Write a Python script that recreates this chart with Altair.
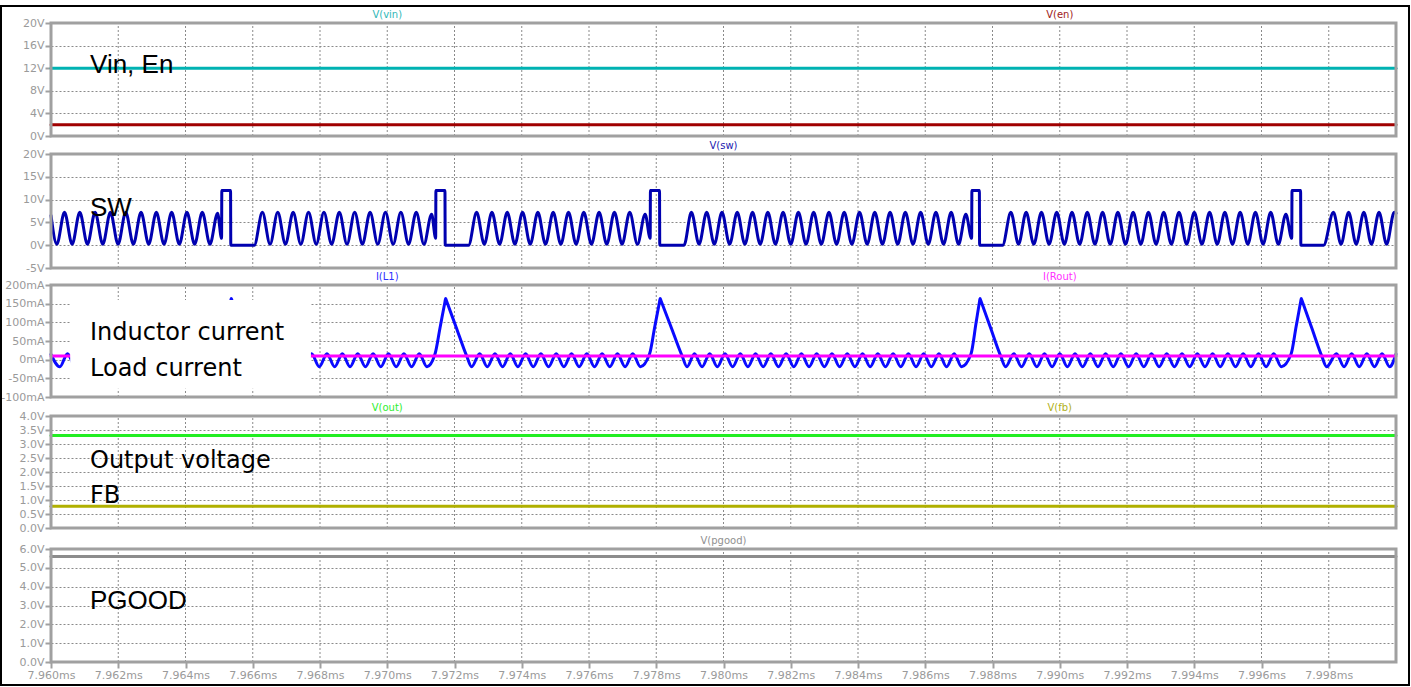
import altair as alt
import pandas as pd

# ---------------------------------------------------------------------------
# Time window (ms) and time-axis ticks
# ---------------------------------------------------------------------------
T0 = 7.960
T1 = 8.000
time_ticks = [7.960, 7.962, 7.964, 7.966, 7.968, 7.970, 7.972, 7.974, 7.976, 7.978,
              7.980, 7.982, 7.984, 7.986, 7.988, 7.990, 7.992, 7.994, 7.996, 7.998]

# ---------------------------------------------------------------------------
# Waveforms: (time in us after 7.960 ms, value)
# ---------------------------------------------------------------------------
# Switch node voltage V(sw) in volts
sw_wave = [
    (0.000, 6.5), (0.173, 0.2), (0.401, 7.2), (0.629, 0.2), (0.856, 7.2), (1.084, 0.2),
    (1.312, 7.2), (1.540, 0.2), (1.767, 7.2), (1.995, 0.2), (2.222, 7.2), (2.450, 0.2),
    (2.678, 7.2), (2.906, 0.2), (3.133, 7.2), (3.361, 0.2), (3.588, 7.2), (3.816, 0.2),
    (4.043, 7.2), (4.271, 0.2), (4.499, 7.2), (4.727, 0.2), (4.954, 7.0),
    (5.073, 1.5), (5.080, 12.0), (5.340, 12.0), (5.347, 0.0), (6.045, 0.0),
    (6.286, 7.2), (6.515, 0.2), (6.744, 7.2), (6.973, 0.2), (7.201, 7.2), (7.430, 0.2),
    (7.659, 7.2), (7.888, 0.2), (8.117, 7.2), (8.346, 0.2), (8.574, 7.2), (8.803, 0.2),
    (9.032, 7.2), (9.261, 0.2), (9.489, 7.2), (9.718, 0.2), (9.947, 7.2), (10.176, 0.2),
    (10.405, 7.2), (10.634, 0.2), (10.862, 7.2), (11.091, 0.2), (11.320, 6.8),
    (11.440, 1.5), (11.447, 12.0), (11.716, 12.0), (11.723, 0.0), (12.418, 0.0),
    (12.658, 7.2), (12.886, 0.2), (13.113, 7.2), (13.341, 0.2), (13.569, 7.2), (13.796, 0.2),
    (14.024, 7.2), (14.252, 0.2), (14.479, 7.2), (14.707, 0.2), (14.935, 7.2), (15.162, 0.2),
    (15.390, 7.2), (15.617, 0.2), (15.845, 7.2), (16.073, 0.2), (16.300, 7.2), (16.528, 0.2),
    (16.756, 7.2), (16.983, 0.2), (17.211, 7.2), (17.440, 0.2), (17.670, 6.8),
    (17.820, 1.5), (17.827, 12.0), (18.097, 12.0), (18.104, 0.0), (18.826, 0.0),
    (19.045, 7.2), (19.273, 0.2), (19.500, 7.2), (19.727, 0.2), (19.954, 7.2), (20.182, 0.2),
    (20.409, 7.2), (20.636, 0.2), (20.863, 7.2), (21.091, 0.2), (21.318, 7.2), (21.545, 0.2),
    (21.772, 7.2), (22.000, 0.2), (22.227, 7.2), (22.454, 0.2), (22.681, 7.2), (22.909, 0.2),
    (23.136, 7.2), (23.363, 0.2), (23.590, 7.2), (23.818, 0.2), (24.045, 7.2), (24.272, 0.2),
    (24.499, 7.2), (24.727, 0.2), (24.954, 7.2), (25.181, 0.2), (25.408, 7.2), (25.636, 0.2),
    (25.863, 7.2), (26.090, 0.2), (26.317, 7.2), (26.544, 0.2), (26.771, 7.2), (26.990, 0.2),
    (27.208, 6.8),
    (27.380, 1.5), (27.387, 12.0), (27.609, 12.0), (27.616, 0.0), (28.299, 0.0),
    (28.546, 7.2), (28.774, 0.2), (29.001, 7.2), (29.228, 0.2), (29.455, 7.2), (29.683, 0.2),
    (29.910, 7.2), (30.137, 0.2), (30.364, 7.2), (30.592, 0.2), (30.819, 7.2), (31.046, 0.2),
    (31.274, 7.2), (31.501, 0.2), (31.728, 7.2), (31.956, 0.2), (32.183, 7.2), (32.410, 0.2),
    (32.637, 7.2), (32.865, 0.2), (33.092, 7.2), (33.319, 0.2), (33.546, 7.2), (33.774, 0.2),
    (34.001, 7.2), (34.228, 0.2), (34.456, 7.2), (34.683, 0.2), (34.910, 7.2), (35.137, 0.2),
    (35.365, 7.2), (35.592, 0.2), (35.819, 7.2), (36.047, 0.2), (36.274, 7.2), (36.500, 0.2),
    (36.726, 6.8),
    (36.900, 1.5), (36.907, 12.0), (37.163, 12.0), (37.170, 0.0), (37.847, 0.0),
    (38.139, 7.2), (38.365, 0.2), (38.591, 7.2), (38.817, 0.2), (39.043, 7.2), (39.269, 0.2),
    (39.495, 7.2), (39.721, 0.2), (39.947, 7.2), (40.000, 7.0),
]

# Inductor current I(L1) in mA (triangular pulses are listed with points along
# their straight flanks so the curve stays straight there)
il_wave = [
    (0.000, 14), (0.263, -19), (0.491, 16), (0.719, -19), (0.946, 16), (1.174, -19),
    (1.402, 16), (1.630, -19), (1.857, 16), (2.085, -19), (2.312, 16), (2.540, -19),
    (2.768, 16), (2.996, -19), (3.223, 16), (3.451, -19), (3.678, 16), (3.906, -19),
    (4.133, 16), (4.361, -19), (4.589, 16), (4.817, -19),
    (5.050, 15), (5.200, 87.1), (5.340, 154.4), (5.360, 164), (5.380, 159.1),
    (5.670, 88.0), (5.988, 10), (6.135, -19),
    (6.376, 16), (6.605, -19), (6.834, 16), (7.063, -19), (7.291, 16), (7.520, -19),
    (7.749, 16), (7.978, -19), (8.207, 16), (8.436, -19), (8.664, 16), (8.893, -19),
    (9.122, 16), (9.351, -19), (9.579, 16), (9.808, -19), (10.037, 16), (10.266, -19),
    (10.495, 16), (10.724, -19), (10.952, 16), (11.181, -19),
    (11.420, 15), (11.570, 85.7), (11.716, 154.6), (11.736, 164), (11.756, 159.1),
    (12.046, 87.6), (12.361, 10), (12.508, -19),
    (12.748, 16), (12.976, -19), (13.203, 16), (13.431, -19), (13.659, 16), (13.886, -19),
    (14.114, 16), (14.342, -19), (14.569, 16), (14.797, -19), (15.025, 16), (15.252, -19),
    (15.480, 16), (15.707, -19), (15.935, 16), (16.163, -19), (16.390, 16), (16.618, -19),
    (16.846, 16), (17.073, -19), (17.301, 16), (17.530, -19),
    (17.800, 15), (17.950, 85.5), (18.097, 154.6), (18.117, 164), (18.137, 159.3),
    (18.427, 90.8), (18.769, 10), (18.916, -19),
    (19.135, 16), (19.363, -19), (19.590, 16), (19.817, -19), (20.044, 16), (20.272, -19),
    (20.499, 16), (20.726, -19), (20.953, 16), (21.181, -19), (21.408, 16), (21.635, -19),
    (21.862, 16), (22.090, -19), (22.317, 16), (22.544, -19), (22.771, 16), (22.999, -19),
    (23.226, 16), (23.453, -19), (23.680, 16), (23.908, -19), (24.135, 16), (24.362, -19),
    (24.589, 16), (24.817, -19), (25.044, 16), (25.271, -19), (25.498, 16), (25.726, -19),
    (25.953, 16), (26.180, -19), (26.407, 16), (26.634, -19), (26.861, 16), (27.080, -19),
    (27.360, 15), (27.510, 98.1), (27.609, 152.9), (27.629, 164), (27.649, 159.0),
    (27.939, 86.1), (28.242, 10), (28.389, -19),
    (28.636, 16), (28.864, -19), (29.091, 16), (29.318, -19), (29.545, 16), (29.773, -19),
    (30.000, 16), (30.227, -19), (30.454, 16), (30.682, -19), (30.909, 16), (31.136, -19),
    (31.364, 16), (31.591, -19), (31.818, 16), (32.046, -19), (32.273, 16), (32.500, -19),
    (32.727, 16), (32.955, -19), (33.182, 16), (33.409, -19), (33.636, 16), (33.864, -19),
    (34.091, 16), (34.318, -19), (34.546, 16), (34.773, -19), (35.000, 16), (35.227, -19),
    (35.455, 16), (35.682, -19), (35.909, 16), (36.137, -19), (36.364, 16), (36.590, -19),
    (36.880, 15), (37.030, 88.8), (37.163, 154.2), (37.183, 164), (37.203, 158.9),
    (37.493, 85.4), (37.790, 10), (37.937, -19),
    (38.229, 16), (38.455, -19), (38.681, 16), (38.907, -19), (39.133, 16), (39.359, -19),
    (39.585, 16), (39.811, -19), (40.000, 15),
]

# DC levels
vin_level = 12.0     # V(vin)
en_level = 2.0       # V(en)
rout_level = 10.0    # I(Rout), mA
vout_level = 3.30    # V(out)
vfb_level = 0.78     # V(fb)
pgood_level = 5.6    # V(pgood)

# ---------------------------------------------------------------------------
# Panel layout: y domain, ticks, label format, pixel range inside plot area
# ---------------------------------------------------------------------------
panels = [
    dict(domain=[0, 20], ticks=[0, 4, 8, 12, 16, 20],
         fmt="datum.value + 'V'", px=[113, 0]),
    dict(domain=[-5, 20], ticks=[-5, 0, 5, 10, 15, 20],
         fmt="datum.value + 'V'", px=[245, 131]),
    dict(domain=[-100, 200], ticks=[-100, -50, 0, 50, 100, 150, 200],
         fmt="datum.value + 'mA'", px=[374, 262]),
    dict(domain=[0, 4], ticks=[0, 0.5, 1, 1.5, 2, 2.5, 3, 3.5, 4],
         fmt="format(datum.value, '.1f') + 'V'", px=[505, 393]),
    dict(domain=[0, 6], ticks=[0, 1, 2, 3, 4, 5, 6],
         fmt="format(datum.value, '.1f') + 'V'", px=[639, 526]),
]


def us_to_ms(u):
    return T0 + u / 1000.0


def flat(level):
    return pd.DataFrame({"t": [T0, T1], "v": [level, level]})


def wave(points):
    return pd.DataFrame({"t": [us_to_ms(u) for u, _ in points],
                         "v": [v for _, v in points]})


# Trace name, panel index, colour, samples, stroke width
traces = [
    ("V(vin)", 0, "#00b2b2", flat(vin_level), 3),
    ("V(en)", 0, "#a00000", flat(en_level), 3),
    ("V(sw)", 1, "#0000b0", wave(sw_wave), 3),
    ("I(L1)", 2, "#0a0aff", wave(il_wave), 3),
    ("I(Rout)", 2, "#ff00ff", flat(rout_level), 3),
    ("V(out)", 3, "#22ee22", flat(vout_level), 3),
    ("V(fb)", 3, "#b0b000", flat(vfb_level), 3),
    ("V(pgood)", 4, "#8c8c8c", flat(pgood_level), 3),
]

# Trace names printed above each panel
series_labels = [
    ("V(vin)", 0, 7.970, "#30b8b8"), ("V(en)", 0, 7.990, "#a02020"),
    ("V(sw)", 1, 7.980, "#2020b0"),
    ("I(L1)", 2, 7.970, "#3030ff"), ("I(Rout)", 2, 7.990, "#ff30ff"),
    ("V(out)", 3, 7.970, "#30ee30"), ("V(fb)", 3, 7.990, "#b0b020"),
    ("V(pgood)", 4, 7.980, "#909090"),
]

# Annotations inside panels: text, panel, time (ms), value, font, size
annotations = [
    ("Vin, En", 0, 7.96116, 11.2, "Liberation Sans", 26),
    ("SW", 1, 7.96116, 6.35, "Liberation Sans", 26),
    ("Inductor current", 2, 7.96116, 52.7, "DejaVu Sans", 24),
    ("Load current", 2, 7.96116, -43.7, "DejaVu Sans", 24),
    ("Output voltage", 3, 7.96116, 2.13, "DejaVu Sans", 24),
    ("FB", 3, 7.96116, 0.88, "DejaVu Sans", 24),
    ("PGOOD", 4, 7.96116, 2.81, "Liberation Sans", 26),
]

# White backing box behind the current-panel annotation (time ms, mA)
label_box = dict(panel=2, t0=7.96057, t1=7.96773, lo=-78, hi=160)

# ---------------------------------------------------------------------------
# Styling
# ---------------------------------------------------------------------------
GRAY = "#a0a0a0"
LABEL_GRAY = "#9a9a9a"
GRID_GRAY = "#8a8a8a"
AXIS_FONT = "DejaVu Sans"

x_scale = alt.Scale(domain=[T0, T1], nice=False, zero=False)
x_axis = alt.Axis(values=time_ticks, labelExpr="format(datum.value, '.3f') + 'ms'",
                  orient="bottom", grid=False, domain=False, ticks=True,
                  tickSize=6, tickWidth=2, tickColor=GRAY, labelColor=LABEL_GRAY,
                  labelFont=AXIS_FONT, labelFontSize=11, labelPadding=1,
                  labelFlush=False, labelOverlap=False, title=None)

one_row = pd.DataFrame({"k": [0]})
grid_df = pd.DataFrame({"t": time_ticks[1:]})


def build_panel(i):
    p = panels[i]
    lo, hi = p["domain"]
    ysc = alt.Scale(domain=p["domain"], range=p["px"], nice=False, zero=False)
    yax = alt.Axis(values=p["ticks"], labelExpr=p["fmt"], orient="left", title=None,
                   grid=True, gridColor=GRID_GRAY, gridDash=[2, 2], gridWidth=1,
                   domain=False, ticks=True, tickSize=6, tickWidth=2, tickColor=GRAY,
                   labelColor=LABEL_GRAY, labelFont=AXIS_FONT, labelFontSize=11,
                   labelPadding=1, labelOverlap=False, labelFlush=False)

    def yf(field):
        return alt.Y(field, type="quantitative", scale=ysc, axis=yax)

    def yd(val):
        return alt.YDatum(val, type="quantitative", scale=ysc, axis=yax)

    xf = alt.X("t", type="quantitative", scale=x_scale, axis=x_axis)

    layers = []
    # vertical grid lines, confined to this panel
    layers.append(
        alt.Chart(grid_df).mark_rule(color=GRID_GRAY, strokeDash=[2, 2], strokeWidth=1)
        .encode(x=xf, y=yd(lo), y2=alt.Y2Datum(hi))
    )
    # traces
    for name, pi, color, df, width in traces:
        if pi != i:
            continue
        layers.append(
            alt.Chart(df).mark_line(color=color, strokeWidth=width, interpolate="monotone",
                                    strokeJoin="round", strokeCap="round")
            .encode(x=xf, y=yf("v"))
        )
    # backing box for annotation
    if label_box["panel"] == i:
        box_df = pd.DataFrame({"t": [label_box["t0"]], "t2": [label_box["t1"]],
                               "lo": [label_box["lo"]], "hi": [label_box["hi"]]})
        layers.append(
            alt.Chart(box_df).mark_rect(color="white")
            .encode(x=xf, x2="t2", y=yf("lo"), y2="hi")
        )
    # annotation text
    for text, pi, t, v, font, size in annotations:
        if pi != i:
            continue
        layers.append(
            alt.Chart(pd.DataFrame({"t": [t], "v": [v], "s": [text]}))
            .mark_text(align="left", baseline="alphabetic", font=font, fontSize=size,
                       color="black")
            .encode(x=xf, y=yf("v"), text="s")
        )
    # trace names above the panel
    for text, pi, t, color in series_labels:
        if pi != i:
            continue
        layers.append(
            alt.Chart(pd.DataFrame({"t": [t], "s": [text]}))
            .mark_text(align="center", baseline="middle", dy=-8, font=AXIS_FONT,
                       fontSize=10, color=color)
            .encode(x=xf, y=yd(hi), text="s")
        )
    # panel frame
    layers.append(
        alt.Chart(one_row).mark_rect(filled=False, color=GRAY, strokeWidth=3)
        .encode(x=alt.XDatum(T0, type="quantitative", scale=x_scale, axis=x_axis),
                x2=alt.X2Datum(T1), y=yd(lo), y2=alt.Y2Datum(hi))
    )
    return alt.layer(*layers)


# thin black outline around the whole window
outline = (
    alt.Chart(one_row).mark_rect(filled=False, color="black", strokeWidth=2)
    .encode(x=alt.value(-50), x2=alt.value(1358), y=alt.value(-17), y2=alt.value(662))
)

chart = (
    alt.layer(*[build_panel(i) for i in range(len(panels))], outline)
    .resolve_scale(y="independent")
    .resolve_axis(y="independent")
    .properties(width=1345, height=639,
                autosize=alt.AutoSizeParams(type="none"),
                padding={"left": 51, "top": 23, "right": 15, "bottom": 25},
                background="white")
    .configure_view(stroke=None)
)

chart.save("out.html", embed_options={"renderer": "svg", "actions": False})
